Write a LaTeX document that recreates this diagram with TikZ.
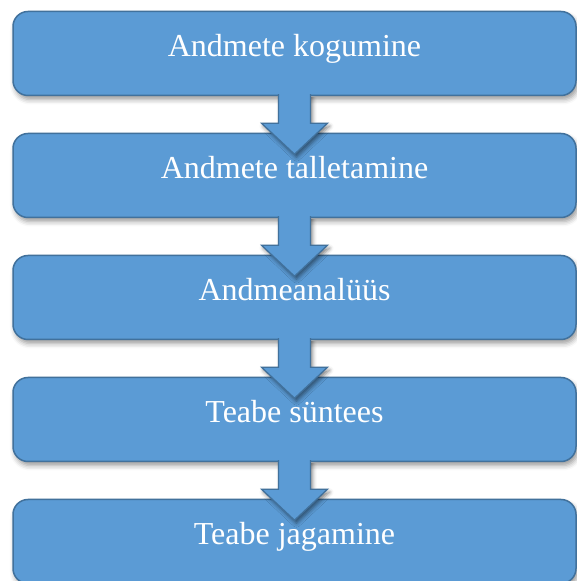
\documentclass[tikz,border=0pt]{standalone}
\usepackage{fontspec}
\setmainfont{Liberation Serif}
\usetikzlibrary{calc,shadows.blur}
\definecolor{boxfill}{HTML}{5B9BD5}
\definecolor{boxline}{HTML}{41719C}
\tikzset{
  stepbox/.style={draw=boxline, line width=1.5pt, fill=boxfill, rounded corners=15pt,
    minimum width=563pt, minimum height=84pt, text=white, inner sep=0pt,
    font=\fontsize{32}{38}\selectfont, text height=15pt, text depth=8pt,
    blur shadow={shadow xshift=2pt, shadow yshift=-4pt, shadow blur radius=5pt, shadow opacity=40}},
  blockarrow/.style={draw=boxline, line width=1.3pt, fill=boxfill, line join=miter,
    blur shadow={shadow xshift=2pt, shadow yshift=-3pt, shadow blur radius=4pt, shadow opacity=50}}
}
\newcommand{\downarrowblock}[1]{%
  \path[blockarrow] ($(#1.south)+(-16pt,2pt)$) -- ($(#1.south)+(-16pt,-27pt)$)
    -- ($(#1.south)+(-33pt,-27pt)$) -- ($(#1.south)+(0pt,-58pt)$)
    -- ($(#1.south)+(33pt,-27pt)$) -- ($(#1.south)+(16pt,-27pt)$)
    -- ($(#1.south)+(16pt,2pt)$);}
\begin{document}
\begin{tikzpicture}[x=1pt,y=1pt]
\useasboundingbox (0,0) rectangle (577,581);
\node[stepbox] (b1) at (294.5,527.5) {Andmete kogumine};
\node[stepbox] (b2) at (294.5,405.5) {Andmete talletamine};
\node[stepbox] (b3) at (294.5,283.5) {Andmeanalüüs};
\node[stepbox] (b4) at (294.5,161.5) {Teabe süntees};
\node[stepbox] (b5) at (294.5,39.5) {Teabe jagamine};
\downarrowblock{b1}
\downarrowblock{b2}
\downarrowblock{b3}
\downarrowblock{b4}
\end{tikzpicture}
\end{document}
